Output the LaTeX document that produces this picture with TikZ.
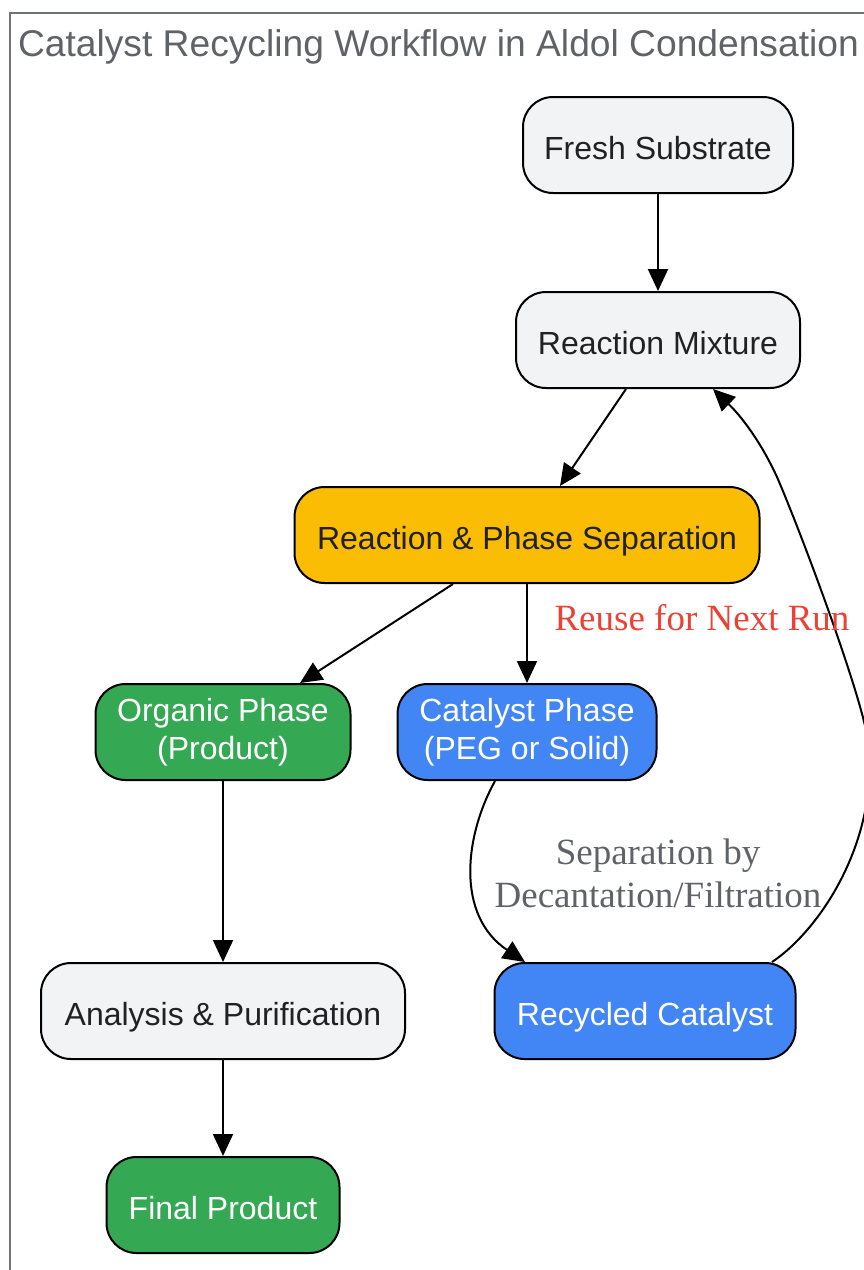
\documentclass[tikz,border=0pt]{standalone}
\usepackage{fontspec}
\setmainfont{Liberation Serif}
\setsansfont{Liberation Sans}
\usepackage{tikz}
\usetikzlibrary{arrows.meta}

\definecolor{boxgray}{HTML}{F1F3F4}
\definecolor{boxyellow}{HTML}{FBBC04}
\definecolor{boxgreen}{HTML}{34A853}
\definecolor{boxblue}{HTML}{4285F4}
\definecolor{txtdark}{HTML}{202124}
\definecolor{txtgray}{HTML}{5F6368}
\definecolor{txtred}{HTML}{EA4335}

\begin{document}
\begin{tikzpicture}[x=0.5pt,y=-0.5pt]
\tikzset{step box/.style = {shape=rectangle,rounded corners=15pt,draw=black,line width=1pt,
  minimum height=48pt,align=center,font=\sffamily\fontsize{16}{19}\selectfont,text=txtdark}}
\tikzset{one line/.style = {text height=14pt,text depth=0pt}}
\tikzset{plain/.style = {step box,one line,fill=boxgray}}
\tikzset{mix/.style = {step box,one line,fill=boxyellow}}
\tikzset{prod/.style = {step box,fill=boxgreen,text=white}}
\tikzset{cat/.style = {step box,fill=boxblue,text=white}}
\tikzset{edge/.style = {-{Triangle[length=11pt,width=10pt]},line width=1pt}}
\tikzset{elabel/.style = {font=\rmfamily\fontsize{18.5}{21.5}\selectfont,align=center}}
\useasboundingbox (0,0) rectangle (863,1270);
\draw[draw=txtgray!90,line width=1pt] (10,13) rectangle (880,1290);
\node[anchor=west,text=txtgray,font=\sffamily\fontsize{18.6}{22}\selectfont] (title) at (11,47) {Catalyst Recycling Workflow in Aldol Condensation};
\node[plain,minimum width=135pt](sub) at (658,145) {Fresh Substrate};
\node[plain,minimum width=142pt](rmix) at (658,340) {Reaction Mixture};
\node[mix,minimum width=232.5pt](sep) at (527,535) {Reaction \& Phase Separation};
\node[prod,minimum width=127.5pt](org) at (223,732) {Organic Phase\\(Product)};
\node[cat,minimum width=129.5pt](catp) at (527,732) {Catalyst Phase\\(PEG or Solid)};
\node[plain,minimum width=182pt](ana) at (223,1011) {Analysis \& Purification};
\node[cat,one line,minimum width=150.5pt](rec) at (645,1011) {Recycled Catalyst};
\node[prod,one line,minimum width=116.5pt](fin) at (223,1205) {Final Product};
\draw[edge] (sub) -- (rmix);
\draw[edge] ([xshift=-16pt]rmix.south) -- ([xshift=16.5pt]sep.north);
\draw[edge] ([xshift=-37pt]sep.south) -- ([xshift=38.5pt]org.north);
\draw[edge] (sep.south) -- (catp.north);
\draw[edge] (org) -- (ana);
\draw[edge] (ana) -- (fin);
\draw[edge] ([xshift=-16pt]catp.south) .. controls (465,835) and (455,915) .. ([xshift=-60pt]rec.north);
\draw[edge] ([xshift=63.5pt]rec.north) .. controls (820,930) and (880,840) .. (868,740)
  .. controls (860,690) and (800,530) .. (777,477)
  .. controls (760,440) and (740,415) .. ([xshift=27.5pt]rmix.south);
\node[elabel,text=txtgray] (seplbl) at (658,873) {Separation by\\Decantation/Filtration};
\node[elabel,text=txtred] (reuselbl) at (702,618) {Reuse for Next Run};
\end{tikzpicture}
\end{document}
